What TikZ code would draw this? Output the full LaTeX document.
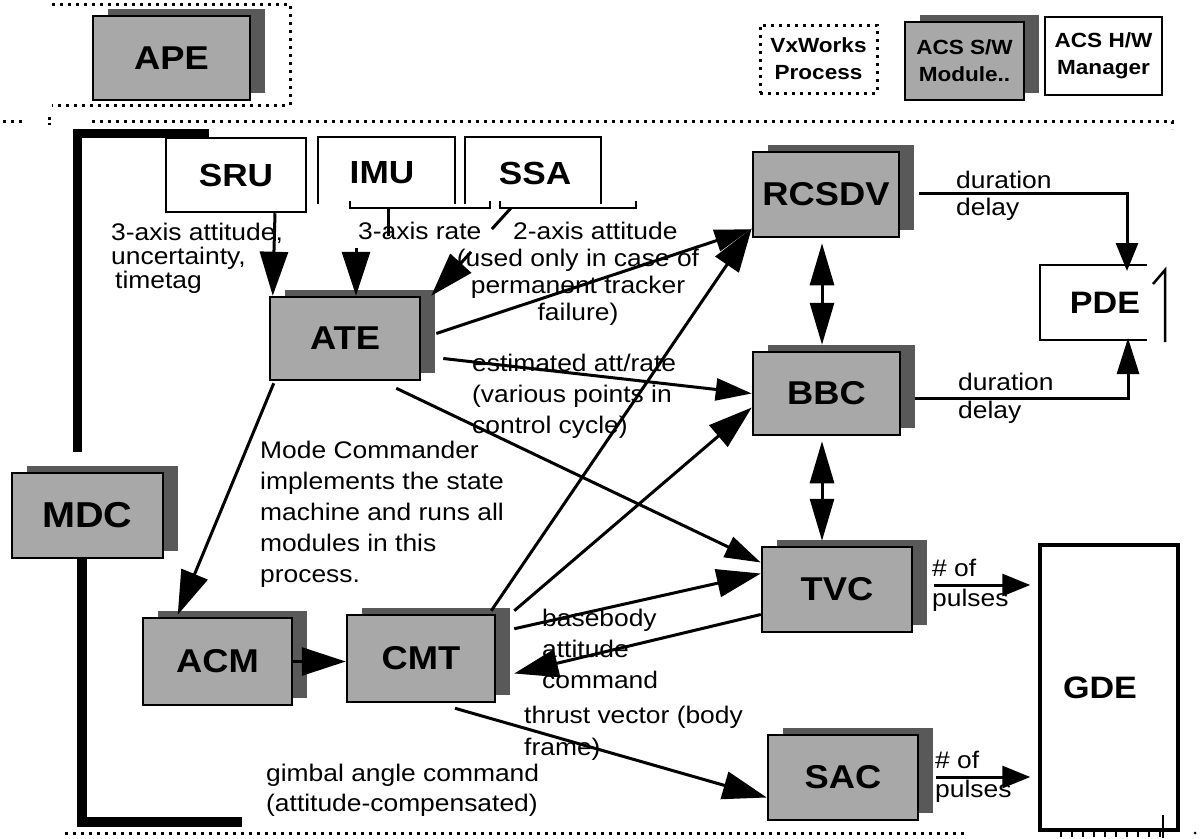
\documentclass[tikz,border=0pt]{standalone}
\usepackage{fontspec}
\setmainfont{Liberation Sans}[FakeStretch=1.1]
\usetikzlibrary{arrows.meta,shadows,calc}
\definecolor{fg}{gray}{0.66}
\definecolor{bg}{gray}{0.35}
\newcommand\Lstr{\vrule width0pt height0.75\baselineskip depth0.25\baselineskip}
\begin{document}
\begin{tikzpicture}[x=1pt,y=-1pt,
  module/.style={draw, line width=2.5pt, fill=fg, inner sep=0pt,
     font=\fontsize{33}{33}\selectfont\bfseries,
     general shadow={shadow xshift=15pt, shadow yshift=7pt, fill=bg, draw=none}},
  hwbox/.style={draw, line width=2.5pt, fill=white, inner sep=0pt, font=\fontsize{32}{32}\selectfont\bfseries},
  hwtext/.style={inner sep=0pt, font=\fontsize{32}{32}\selectfont\bfseries},
  legendtxt/.style={align=center, inner sep=0pt, font=\fontsize{20.5}{27}\selectfont\bfseries},
  lbl/.style={inner sep=0pt, anchor=north west, align=left, font=\fontsize{24}{#1}\selectfont},
  lblc/.style={inner sep=0pt, anchor=north, align=center, font=\fontsize{24}{#1}\selectfont},
  conn/.style={line width=3pt},
  ahL/.style={-{Triangle[length=44pt,width=28pt]}},
  ahM/.style={-{Triangle[length=36pt,width=22pt]}},
  ahS/.style={-{Triangle[length=28pt,width=22pt]}},
  dbl/.style={{Triangle[length=42pt,width=24pt]}-{Triangle[length=42pt,width=24pt]}},
  dotline/.style={line width=3pt, dash pattern=on 3pt off 5pt},
  framebar/.style={line width=9pt},
  openline/.style={line width=2.5pt}
]
\fill[white] (0,0) rectangle (1201,838);
\useasboundingbox (0,0) rectangle (1201,838);

% dotted process frames
\draw[dotline] (52,4) -- (290,4) -- (290,105) -- (52,105);
\draw[dotline] (92,121) -- (1172,121) -- (1172,129);
\draw[dotline] (3,121) -- (25,121);
\draw[line width=3pt, dash pattern=on 2.5pt off 3pt] (49,117) -- (49,125);
\draw[dotline] (65,833) -- (965,833);
\draw[line width=7pt, dash pattern=on 2pt off 9pt] (1060,833) -- (1168,833);
\fill (1195,833) circle (1.5);

% thick frame bars
\draw[framebar] (209,133) -- (77,133) -- (77,452);
\draw[line width=10pt] (82,558) -- (82,822) -- (242,822);

% modules
\node[module, minimum width=157pt, minimum height=84pt] (ape) at (171.5,58) {APE};
\node[module, minimum width=150pt, minimum height=83pt] (ate) at (345,338.5) {ATE};
\node[module, minimum width=151pt, minimum height=85pt, font=\fontsize{36}{36}\selectfont\bfseries] (mdc) at (87.5,515.5) {MDC};
\node[module, minimum width=146pt, minimum height=85pt] (rcsdv) at (826,194.5) {RCSDV};
\node[module, minimum width=147pt, minimum height=83pt] (bbc) at (826.5,393.5) {BBC};
\node[module, minimum width=150pt, minimum height=85pt] (tvc) at (837,589.5) {TVC};
\node[module, minimum width=150pt, minimum height=85pt] (sac) at (843,777.5) {SAC};
\node[module, minimum width=149pt, minimum height=87pt] (acm) at (217.5,661.5) {ACM};
\node[module, minimum width=148pt, minimum height=87pt] (cmt) at (421,658.5) {CMT};

% legend
\node[draw, dotline, minimum width=117pt, minimum height=68pt, legendtxt] (vx) at (818.5,59) {VxWorks\\Process};
\node[module, minimum width=119pt, minimum height=78pt, legendtxt] (sw) at (964.5,61) {ACS S/W\\Module..};
\node[draw, line width=2.5pt, minimum width=117pt, minimum height=78pt, legendtxt] (hw) at (1103.5,56) {ACS H/W\\Manager};

% hardware managers
\node[hwbox, minimum width=140pt, minimum height=74pt] (sru) at (236,175) {SRU};
\node[hwtext] (imu) at (382,173) {IMU};
\node[hwtext] (ssa) at (535,173) {SSA};
\draw[openline] (318,204) -- (318,137) -- (455,137) -- (455,204);
\draw[openline] (350,201) -- (350,208) -- (490,208) -- (490,201);
\draw[openline] (465,204) -- (465,137) -- (601,137) -- (601,204);
\draw[openline] (500,201) -- (500,208) -- (636,208) -- (636,201);

\node[hwtext, font=\fontsize{31}{31}\selectfont\bfseries] (pde) at (1105,303) {PDE};
\draw[openline] (1147,265) -- (1040,265) -- (1040,340) -- (1147,340);
\draw[openline] (1153,284) -- (1165,270) -- (1165,342);
\coordinate (pdeT) at (1127,271);
\coordinate (pdeB) at (1128,338);

\node[draw, line width=3.5pt, minimum width=138pt, minimum height=285pt, inner sep=0pt,
  font=\fontsize{31}{31}\selectfont\bfseries] (gde) at (1109,687.5) {GDE\hspace*{18pt}};
\draw[line width=2pt] (1163,815) -- (1163,838);

% labels
\node[lbl=24] (l1) at (111,222) {\Lstr 3-axis attitude,\\\Lstr uncertainty,\\\Lstr\hspace*{4pt}timetag};
\node[lbl=24] (l2) at (358,221) {\Lstr 3-axis rate};
\node[lbl=28] (l3) at (513,218) {\Lstr 2-axis attitude};
\node[lblc=27] (l4) at (578,245.75) {\Lstr(used only in case of\\\Lstr permanent tracker\\\Lstr failure)};
\node[lbl=31] (l5) at (472,347.75) {\Lstr estimated att/rate\\\Lstr(various points in\\\Lstr control cycle)};
\node[lbl=31] (l6) at (260,434.75) {\Lstr Mode Commander\\\Lstr implements the state\\\Lstr machine and runs all\\\Lstr modules in this\\\Lstr process.};
\node[lbl=31] (l7) at (542,602.75) {\Lstr basebody\\\Lstr attitude\\\Lstr command};
\node[lbl=32] (l8) at (524,699) {\Lstr thrust vector (body\\\Lstr frame)};
\node[lbl=30] (l9) at (266,758.5) {\Lstr gimbal angle command\\\Lstr(attitude-compensated)};
\node[lbl=27] (l10) at (956,167.75) {\Lstr duration\\\Lstr delay};
\node[lbl=28] (l11) at (958,369) {\Lstr duration\\\Lstr delay};
\node[lbl=30] (l12) at (932,553.5) {\Lstr\# of\\\Lstr pulses};
\node[lbl=29] (l13) at (935,747) {\Lstr\# of\\\Lstr pulses};

% connectors
\draw[conn, ahL] ($(sru.south)+(39,0)$) -- ($(ate.north west)+(4,0)$);
\coordinate (imuB) at (388,208);
\draw[conn] (imuB) -- ++(0,28);
\draw[conn, ahL] ($(ate.north)+(11,-48)$) -- ($(ate.north)+(11,0)$);
\coordinate (ssaB) at (511,208);
\coordinate (ateNE) at ($(ate.north east)+(10,0)$);
\draw[conn] (ssaB) -- ($(ssaB)!0.24!(ateNE)$);
\draw[conn, ahL] ($(ssaB)!0.5!(ateNE)$) -- (ateNE);

\draw[conn, ahM] ($(ate.east)+(15,-5)$) -- ($(rcsdv.south west)+(-1,-9)$);
\draw[conn, ahL] ($(cmt.north east)+(-5,-3)$) -- ($(rcsdv.south west)+(0,-10)$);
\draw[conn, ahM] ($(ate.east)+(22,20)$) -- (bbc.west);
\draw[conn, ahL] ($(cmt.north east)+(18,-3)$) -- ($(bbc.west)+(0,14)$);
\draw[conn, ahM] ($(ate.south east)+(-25,7)$) -- ($(tvc.west)+(0,-27)$);
\draw[conn, ahL] ($(cmt.north east)+(18,15)$) -- ($(tvc.west)+(0,-16)$);
\draw[conn, ahL] ($(tvc.west)+(0,25)$) -- ($(cmt.east)+(18,15)$);
\draw[conn, ahL] ($(cmt.south)+(34,5)$) -- ($(sac.west)+(0,20)$);
\draw[conn, ahL] ($(ate.south west)+(5,2)$) -- ($(acm.north west)+(36,-2)$);
\draw[conn, ahL] (acm.east) -- (acm.east -| cmt.west);
\draw[conn, dbl] ($(rcsdv.south)+(-4,5)$) -- ($(bbc.north)+(-4.5,-6)$);
\draw[conn, dbl] ($(bbc.south)+(-4.5,5)$) -- ($(tvc.north)+(-15,-5)$);
\draw[conn, ahS] ($(rcsdv.east)+(19,-1.5)$) -| (pdeT);
\draw[conn, ahM] ($(bbc.east)+(14,4.5)$) -| (pdeB);
\coordinate (tvcO) at ($(tvc.east)+(21,-4.5)$);
\draw[conn, ahS] (tvcO) -- ([xshift=-8pt]gde.west |- tvcO);
\coordinate (sacO) at ($(sac.east)+(17,-0.5)$);
\draw[conn, ahS] (sacO) -- ([xshift=-8pt]gde.west |- sacO);
\end{tikzpicture}
\end{document}
